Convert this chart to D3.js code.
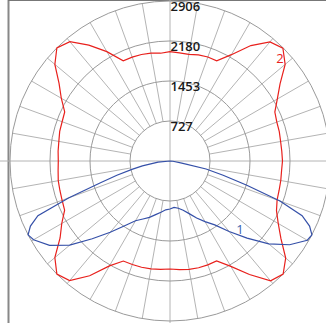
<!DOCTYPE html>
<html>
<head>
<meta charset="utf-8">
<script src="https://cdn.jsdelivr.net/npm/d3@7/dist/d3.min.js"></script>
<style>
  html, body { margin: 0; padding: 0; background: #fff; overflow: hidden; }
  svg { display: block; }
</style>
</head>
<body>
<script>
// Ring tick labels (cd)
const ringValues = [727, 1453, 2180, 2906];
const ringLabels = ["727", "1453", "2180", "2906"];
const maxValue = 2906;

// Series 2 (red): gamma from -180 (zenith, left) through 0 (nadir) to 180 (zenith, right), 5° steps
const redAngles = d3.range(-180, 181, 5);
const redValues = [
  1985, 1965, 1990, 2003, 2007, 2009, 2294, 2570, 2828, 2906, 2730, 2460, 2280, 2110, 2085, 2074, 2050, 2040, 2029,
  2040, 2061, 2070, 2085, 2112, 2270, 2437, 2730, 2906, 2837, 2545, 2200, 2005, 2000, 1998, 1990, 1975,
  1962,
  1980, 1998, 2007, 2007, 2003, 2210, 2516, 2842, 2906, 2743, 2460, 2270, 2134, 2070, 2052, 2043, 2034,
  2043, 2038, 2040, 2055, 2065, 2101, 2250, 2440, 2730, 2900, 2825, 2560, 2230, 2007, 2010, 1995, 1965, 1970, 1985
];

// Series 1 (blue): gamma from -90 to 90
const blueAngles = [-90, -85, -80, -77.5, -75, -72.5, -70, -67.5, -65, -62.5, -60, -55, -50, -45, -40, -35, -30, -25, -20, -15, -10, -5,
  0, 5, 10, 15, 20, 25, 30, 35, 40, 45, 50, 55, 60, 62.5, 65, 67.5, 70, 72.5, 75, 77.5, 80, 85, 90];
const blueValues = [0, 218, 509, 708, 999, 1344, 1962, 2597, 2797, 2906, 2861, 2670, 2379, 1998, 1689, 1435, 1253, 1162, 1090, 1008, 944, 890,
  872, 845, 872, 926, 1017, 1144, 1271, 1417, 1671, 1980, 2343, 2652, 2879, 2906, 2797, 2597, 2125, 1453, 999, 672, 218, 54, 0];

const W = 326, H = 323;
const cx = 170, cy = 161, R = 160;

const svg = d3.select("body").append("svg").attr("width", W).attr("height", H);

const r = d3.scaleLinear().domain([0, maxValue]).range([0, R]);
const toRad = d => (180 - d) * Math.PI / 180; // d3 radial angle: 0 = up, clockwise

// frame
svg.append("line").attr("x1", 8.5).attr("x2", 8.5).attr("y1", 0).attr("y2", H)
  .attr("stroke", "#888").attr("stroke-width", 2);
svg.append("line").attr("x1", 8).attr("x2", W).attr("y1", 0.5).attr("y2", 0.5)
  .attr("stroke", "#777").attr("stroke-width", 1);

const g = svg.append("g").attr("transform", `translate(${cx},${cy})`);

// radial lines every 10°
const spokes = d3.range(0, 360, 10);
g.selectAll("line.spoke").data(spokes).enter().append("line")
  .attr("class", "spoke")
  .attr("x1", d => (d % 90 === 0 ? 0 : r(ringValues[0])) * Math.sin(d * Math.PI / 180))
  .attr("y1", d => -(d % 90 === 0 ? 0 : r(ringValues[0])) * Math.cos(d * Math.PI / 180))
  .attr("x2", d => (d % 90 === 0 ? 400 : r(maxValue)) * Math.sin(d * Math.PI / 180))
  .attr("y2", d => -(d % 90 === 0 ? 400 : r(maxValue)) * Math.cos(d * Math.PI / 180))
  .attr("stroke", "#b4b4b4").attr("stroke-width", 1);

// rings
g.selectAll("circle.ring").data(ringValues).enter().append("circle")
  .attr("class", "ring")
  .attr("r", d => r(d))
  .attr("fill", "none").attr("stroke", "#9a9a9a").attr("stroke-width", 1);

// curves
const line = d3.lineRadial().angle(d => toRad(d[0])).radius(d => r(d[1])).curve(d3.curveLinear);
g.append("path").datum(redAngles.map((a, i) => [a, redValues[i]]))
  .attr("d", line).attr("fill", "none").attr("stroke", "#e8201c").attr("stroke-width", 1.2);
g.append("path").datum(blueAngles.map((a, i) => [a, blueValues[i]]))
  .attr("d", line).attr("fill", "none").attr("stroke", "#3550a8").attr("stroke-width", 1.2);

// ring labels
g.selectAll("text.rl").data(ringValues).enter().append("text")
  .attr("class", "rl")
  .attr("x", 0.5).attr("y", d => -r(d) + 10)
  .attr("font-family", "'Open Sans', 'DejaVu Sans', sans-serif")
  .attr("font-size", 13).attr("font-weight", 600).attr("fill", "#1a1a1a")
  .text((d, i) => ringLabels[i]);

// series labels
svg.append("text").attr("x", 240).attr("y", 234).attr("text-anchor", "middle")
  .attr("font-family", "'Open Sans', sans-serif").attr("font-size", 13).attr("fill", "#3a62b0").text("1");
svg.append("text").attr("x", 280).attr("y", 63).attr("text-anchor", "middle")
  .attr("font-family", "'Open Sans', sans-serif").attr("font-size", 13).attr("fill", "#e8201c").text("2");
</script>
</body>
</html>
